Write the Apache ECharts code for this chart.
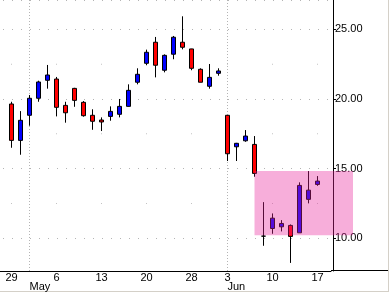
<!DOCTYPE html>
<html><head><meta charset="utf-8">
<script src="https://cdn.jsdelivr.net/npm/echarts@6/dist/echarts.min.js"></script>
<style>html,body{margin:0;padding:0;background:#fff}#c{width:390px;height:293px}</style>
</head><body><div id="c"></div>
<script>
// trading days (2002)
const dates = ['2002-04-29','2002-04-30','2002-05-01','2002-05-02','2002-05-03',
  '2002-05-06','2002-05-07','2002-05-08','2002-05-09','2002-05-10',
  '2002-05-13','2002-05-14','2002-05-15','2002-05-16','2002-05-17',
  '2002-05-20','2002-05-21','2002-05-22','2002-05-23','2002-05-24',
  '2002-05-28','2002-05-29','2002-05-30','2002-05-31',
  '2002-06-03','2002-06-04','2002-06-05','2002-06-06','2002-06-07',
  '2002-06-10','2002-06-11','2002-06-12','2002-06-13','2002-06-14',
  '2002-06-17'];
const padBefore = ['2002-04-26'];
const padAfter = ['2002-06-18'];
const openP  = [19.64,17.03,18.83,20.05,21.34, 21.43,19.54,20.76,19.76,18.83, 18.49,18.75,18.90,19.47,21.20, 22.56,24.07,22.06,23.21,24.07, 23.59,22.13,20.91,21.84, 18.83,16.57,17.00,16.74,10.16, 10.71,10.83,10.93,10.40,12.80, 13.87];
const closeP = [17.03,18.47,20.05,21.22,21.72, 19.40,19.01,19.90,18.80,18.40, 18.35,19.11,19.47,20.62,21.77, 23.35,22.42,23.13,24.43,23.71, 22.20,21.20,21.55,22.01, 16.07,16.82,17.34,14.66,10.16, 11.45,11.07,10.14,13.80,13.46, 14.11];
const lowP   = [16.50,16.00,18.08,19.80,20.74, 18.75,18.30,19.44,18.73,17.79, 17.70,18.44,18.68,19.45,21.05, 22.42,21.55,21.91,22.85,23.56, 22.06,21.20,20.74,21.67, 15.55,15.55,16.93,14.42, 9.47, 10.33,10.50, 8.24,10.40,12.51, 13.77];
const highP  = [19.80,19.13,20.28,21.31,22.44, 21.58,19.80,20.80,19.85,19.26, 18.68,19.47,20.00,21.05,22.20, 23.54,24.45,23.20,24.52,25.93, 23.60,22.20,22.51,22.20, 18.85,16.85,17.77,17.34,12.60, 11.79,11.31,11.00,14.02,14.83, 14.47];
const weekStarts = ['2002-04-29','2002-05-06','2002-05-13','2002-05-20','2002-05-28','2002-06-03','2002-06-10','2002-06-17'];
const monthStarts = ['2002-05-01','2002-06-03'];
const monthNames = ['May','Jun'];
const yTicks = [10, 15, 20, 25];
const minorLevels = [12.5, 17.5, 22.5];
const zoneTop = 14.83, zoneBottom = 10.23, zoneStart = '2002-06-06';

const categories = padBefore.concat(dates, padAfter);
const empty = ['-','-','-','-'];
const candleData = padBefore.map(() => empty)
  .concat(dates.map((d, i) => [openP[i], closeP[i], lowP[i], highP[i]]))
  .concat(padAfter.map(() => empty));
const minorDots = [];
weekStarts.forEach(w => minorLevels.forEach(l => minorDots.push([w, l])));

const font = 'Liberation Sans, Arial, sans-serif';
const chart = echarts.init(document.getElementById('c'), null, {renderer: 'canvas'});
chart.setOption({
  animation: false,
  backgroundColor: '#ffffff',
  grid: {left: -2, top: 0, width: 333, height: 271, containLabel: false, outerBoundsMode: 'none'},
  xAxis: [{
    type: 'category', data: categories, boundaryGap: true, position: 'bottom',
    axisLine: {show: true, lineStyle: {color: '#000', width: 1}},
    axisTick: {show: false},
    splitLine: {show: false},
    axisLabel: {
      interval: (i, v) => weekStarts.indexOf(v) >= 0,
      formatter: v => String(parseInt(v.slice(8), 10)),
      color: '#000', fontFamily: font, fontSize: 11, margin: 1
    }
  }, {
    type: 'category', data: categories, boundaryGap: true, position: 'bottom', offset: 10,
    axisLine: {show: false}, axisTick: {show: false}, splitLine: {show: false},
    axisLabel: {
      interval: (i, v) => monthStarts.indexOf(v) >= 0,
      formatter: v => monthNames[monthStarts.indexOf(v)],
      align: 'left', color: '#000', fontFamily: font, fontSize: 11, margin: 0
    }
  }],
  yAxis: {
    type: 'value', position: 'right', offset: 2, min: 7.66, max: 27.1, splitNumber: 4,
    axisLine: {show: true, lineStyle: {color: '#000', width: 1}},
    axisTick: {show: true, length: 3, inside: false, lineStyle: {color: '#000'}},
    axisLabel: {
      showMinLabel: false, showMaxLabel: false, margin: 2,
      formatter: v => yTicks.indexOf(Math.round(v * 100) / 100) >= 0 ? v.toFixed(2) : '',
      color: '#000', fontFamily: font, fontSize: 11
    },
    splitLine: {show: true, lineStyle: {color: '#b4b4b4', width: 1, type: [1, 8], dashOffset: 4}}
  },
  series: [{
    type: 'scatter', data: minorDots, symbol: 'rect', symbolSize: 1, silent: true, z: 0,
    itemStyle: {color: '#b4b4b4'}
  }, {
    type: 'candlestick', data: candleData, barWidth: 5, clip: false, z: 2,
    itemStyle: {color: '#0000ff', color0: '#ff0000', borderColor: '#000000', borderColor0: '#000000', borderColorDoji: '#000000', borderWidth: 1},
    emphasis: {disabled: true},
    markLine: {
      silent: true, z: 1, symbol: ['none', 'none'], label: {show: false}, animation: false,
      lineStyle: {color: '#b4b4b4', width: 1, type: [1, 2]},
      emphasis: {disabled: true},
      data: monthStarts.map(d => ({xAxis: d}))
    },
    markArea: {
      silent: true, z: 10,
      itemStyle: {color: 'rgba(233,33,154,0.365)'},
      emphasis: {disabled: true},
      data: [[{xAxis: zoneStart, yAxis: zoneTop}, {x: 353, yAxis: zoneBottom}]]
    }
  }],
  graphic: [
    {type: 'line', shape: {x1: 331, y1: 270.5, x2: 389, y2: 270.5}, style: {stroke: '#000', lineWidth: 1}, silent: true},
    {type: 'line', shape: {x1: 388.5, y1: 0, x2: 388.5, y2: 292}, style: {stroke: '#d4d0c8', lineWidth: 1}, silent: true},
    {type: 'line', shape: {x1: 0, y1: 291.5, x2: 389, y2: 291.5}, style: {stroke: '#d4d0c8', lineWidth: 1}, silent: true}
  ]
});
</script></body></html>
